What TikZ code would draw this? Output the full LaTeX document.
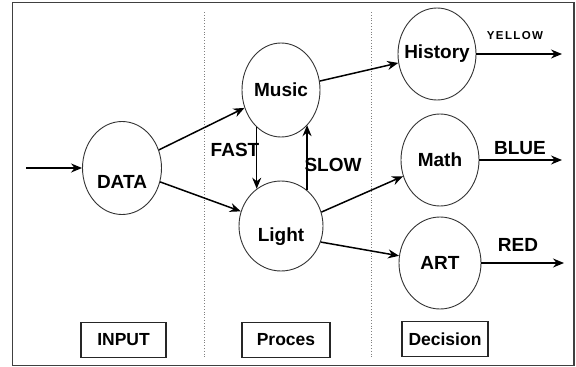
\documentclass[tikz,border=0pt]{standalone}
\usepackage{fontspec}
\setmainfont{Liberation Sans}
\newfontfamily\widefont[LetterSpace=12]{Liberation Sans}
\usetikzlibrary{shapes.geometric,arrows.meta}

\tikzset{
  blob/.style={ellipse,draw=black!80,line width=0.9pt,inner xsep=-15pt,inner ysep=0pt,
    font=\fontsize{19}{21}\selectfont\bfseries},
  tag/.style={draw=black!85,line width=1.4pt,minimum height=35pt,
    font=\fontsize{17.5}{19}\selectfont\bfseries},
  flow/.style={-{Stealth[length=11pt,width=9pt]},line width=1.5pt},
  word/.style={font=\fontsize{19}{21}\selectfont\bfseries}
}

\begin{document}
\begin{tikzpicture}[x=1pt,y=-1pt]
  \useasboundingbox (0,0) rectangle (576,367);
  \draw[black!75,line width=1.6pt] (12.5,2.5) rectangle (574,365.5);
  \draw[gray,dotted,line width=0.8pt] (204,12) -- (204,358) (371,12) -- (371,358);

  \node[blob,minimum width=79pt,minimum height=93pt,text height=41pt,text depth=0pt] (data) at (122,168) {DATA};
  \node[blob,minimum width=78pt,minimum height=94pt] (music) at (281,90) {Music};
  \node[blob,minimum width=84pt,minimum height=90pt,text height=31pt,text depth=0pt] (light) at (281,226) {Light};
  \node[blob,minimum width=78pt,minimum height=92pt] (history) at (437,54) {History};
  \node[blob,minimum width=78pt,minimum height=92pt] (math) at (440,160) {Math};
  \node[blob,minimum width=82pt,minimum height=92pt] (art) at (440,263) {ART};

  \coordinate (src) at (26,168);
  \coordinate (yellow) at (562,54);
  \coordinate (blue) at (562,160);
  \coordinate (red) at (564,263);

  \draw[flow] (src) -- (data);
  \draw[flow] (data) -- (music);
  \draw[flow] (data) -- (light);
  \draw[flow] (music) -- (history);
  \draw[flow] (light.19) -- (math);
  \draw[flow] (light.-22) -- (art);
  \draw[flow] (music.237) -- (music.237 |- light.123);
  \draw[flow] (light.54) -- (light.54 |- music.307);
  \draw[flow] (history) -- (yellow);
  \draw[flow] (math) -- (blue);
  \draw[flow] (art) -- (red);

  \node[word] (fast) at (235,150) {FAST};
  \node[word] (slow) at (333,165) {SLOW};
  \node[font=\widefont\fontsize{11.5}{12}\selectfont\bfseries] (ylw) at (515,36) {YELLOW};
  \node[word] (blu) at (520,148) {BLUE};
  \node[word] (rd) at (518,245) {RED};

  \node[tag,minimum width=85pt] (input) at (123.5,340) {INPUT};
  \node[tag,minimum width=88pt] (proces) at (286,340) {Proces};
  \node[tag,minimum width=86pt] (decision) at (445,339) {Decision};
\end{tikzpicture}
\end{document}
